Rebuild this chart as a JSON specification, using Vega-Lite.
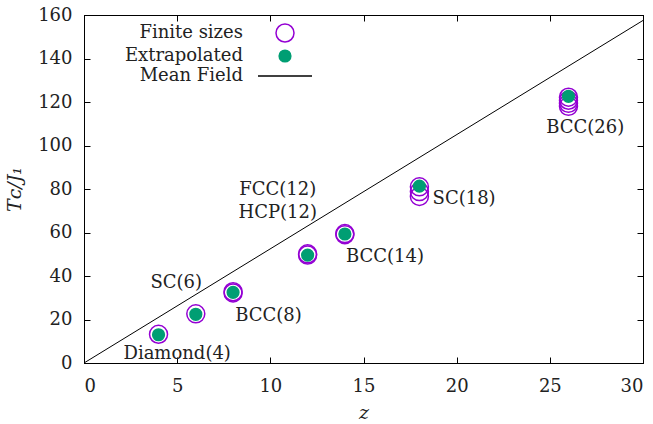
{
  "$schema": "https://vega.github.io/schema/vega-lite/v6.json",
  "width": 559,
  "height": 348,
  "autosize": "none",
  "padding": {"left": 84, "top": 15, "right": 10, "bottom": 61},
  "background": "white",
  "config": {
    "view": {"stroke": "black", "strokeWidth": 1},
    "font": "DejaVu Serif",
    "text": {"font": "DejaVu Serif"},
    "axis": {
      "grid": false,
      "domainColor": "black",
      "tickColor": "black",
      "tickSize": -6,
      "labelFont": "DejaVu Serif",
      "labelFontSize": 18,
      "labelColor": "#222",
      "titleFont": "DejaVu Serif",
      "titleFontSize": 19,
      "titleFontWeight": "normal",
      "titleFontStyle": "italic",
      "titleColor": "#222"
    },
    "legend": {
      "labelFont": "DejaVu Serif",
      "labelFontSize": 18,
      "labelColor": "#222"
    }
  },
  "datasets": {
    "pts": [
      {"z": 4, "T": 13.2, "series": "Finite sizes"},
      {"z": 6, "T": 22.6, "series": "Finite sizes"},
      {"z": 8, "T": 32.2, "series": "Finite sizes"},
      {"z": 8, "T": 32.8, "series": "Finite sizes"},
      {"z": 12, "T": 49.6, "series": "Finite sizes"},
      {"z": 12, "T": 50.2, "series": "Finite sizes"},
      {"z": 14, "T": 59.0, "series": "Finite sizes"},
      {"z": 14, "T": 59.5, "series": "Finite sizes"},
      {"z": 18, "T": 81.0, "series": "Finite sizes"},
      {"z": 18, "T": 78.8, "series": "Finite sizes"},
      {"z": 18, "T": 76.6, "series": "Finite sizes"},
      {"z": 26, "T": 122.2, "series": "Finite sizes"},
      {"z": 26, "T": 120.8, "series": "Finite sizes"},
      {"z": 26, "T": 119.4, "series": "Finite sizes"},
      {"z": 26, "T": 118.0, "series": "Finite sizes"},
      {"z": 4, "T": 13.0, "series": "Extrapolated"},
      {"z": 6, "T": 22.4, "series": "Extrapolated"},
      {"z": 8, "T": 32.5, "series": "Extrapolated"},
      {"z": 12, "T": 49.6, "series": "Extrapolated"},
      {"z": 14, "T": 59.3, "series": "Extrapolated"},
      {"z": 18, "T": 81.3, "series": "Extrapolated"},
      {"z": 26, "T": 122.6, "series": "Extrapolated"}
    ],
    "mf": [
      {"z": 0, "T": 0, "series": "Mean Field"},
      {"z": 30, "T": 157.5, "series": "Mean Field"}
    ],
    "labels": [
      {"z": 5.0, "T": 4.3, "label": "Diamond(4)"},
      {"z": 4.95, "T": 37, "label": "SC(6)"},
      {"z": 9.9, "T": 21.4, "label": "BCC(8)"},
      {"z": 10.4, "T": 79.7, "label": "FCC(12)"},
      {"z": 10.4, "T": 69.1, "label": "HCP(12)"},
      {"z": 16.15, "T": 48.7, "label": "BCC(14)"},
      {"z": 20.4, "T": 75.5, "label": "SC(18)"},
      {"z": 26.9, "T": 108, "label": "BCC(26)"}
    ]
  },
  "resolve": {"axis": {"x": "independent", "y": "independent"}},
  "layer": [
    {
      "data": {"name": "mf"},
      "mark": {"type": "line", "strokeWidth": 1},
      "encoding": {
        "x": {"field": "z", "type": "quantitative", "scale": {"domain": [0, 30], "nice": false},
          "axis": {"orient": "bottom", "title": "z", "values": [0, 5, 10, 15, 20, 25, 30], "labelPadding": 20, "titlePadding": 8}},
        "y": {"field": "T", "type": "quantitative", "scale": {"domain": [0, 160], "nice": false},
          "axis": {"orient": "left", "title": "Tᴄ/J₁", "values": [0, 20, 40, 60, 80, 100, 120, 140, 160], "labelPadding": 18, "titlePadding": 13}},
        "stroke": {"field": "series", "type": "nominal",
          "scale": {"domain": ["Finite sizes", "Extrapolated", "Mean Field"], "range": ["#9400d3", "#009e73", "black"]},
          "legend": {"orient": "none", "legendX": 191, "legendY": 8, "title": null, "padding": 0, "rowPadding": 1, "labelAlign": "right", "labelOffset": -52, "symbolSize": 324, "symbolStrokeWidth": 1.5}}
      }
    },
    {
      "data": {"name": "pts"},
      "mark": {"type": "point", "opacity": 1, "strokeWidth": 1.5, "size": 324},
      "encoding": {
        "x": {"field": "z", "type": "quantitative", "axis": {"orient": "top", "labels": false, "title": null, "values": [0, 5, 10, 15, 20, 25, 30], "tickSize": -6}},
        "y": {"field": "T", "type": "quantitative", "axis": {"orient": "right", "labels": false, "title": null, "values": [0, 20, 40, 60, 80, 100, 120, 140, 160], "tickSize": -6}},
        "stroke": {"field": "series", "type": "nominal"},
        "fill": {"field": "series", "type": "nominal",
          "scale": {"domain": ["Finite sizes", "Extrapolated", "Mean Field"], "range": ["transparent", "#009e73", "transparent"]}},
        "shape": {"field": "series", "type": "nominal",
          "scale": {"domain": ["Finite sizes", "Extrapolated", "Mean Field"], "range": ["circle", "M0.65,0A0.65,0.65,0,1,1,-0.65,0A0.65,0.65,0,1,1,0.65,0Z", "M-3,0H3"]}}
      }
    },
    {
      "data": {"name": "labels"},
      "mark": {"type": "text", "font": "DejaVu Serif", "fontSize": 18, "color": "#222", "align": "center", "baseline": "middle"},
      "encoding": {
        "x": {"field": "z", "type": "quantitative", "axis": null},
        "y": {"field": "T", "type": "quantitative", "axis": null},
        "text": {"field": "label"}
      }
    }
  ]
}
